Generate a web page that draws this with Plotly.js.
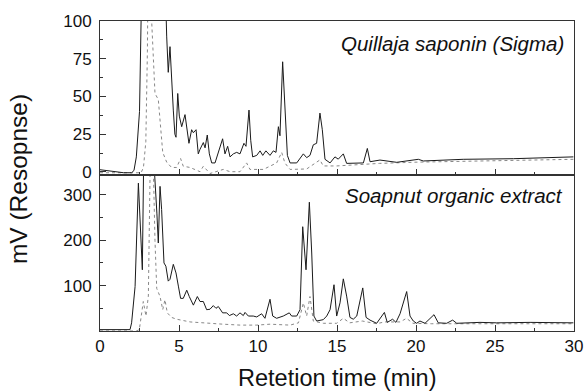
<!DOCTYPE html>
<html>
<head>
<meta charset="utf-8">
<script src="https://cdn.plot.ly/plotly-3.0.1.min.js"></script>
<style>html,body{margin:0;padding:0;background:#fff;}#chart{width:587px;height:392px;}</style>
</head>
<body>
<div id="chart"></div>
<script>
// Top panel: Quillaja saponin (Sigma)
const quillajaSolidX = [0,0.5,1.0,1.5,2.0,2.15,2.3,2.42,2.5,2.6,2.8,3.2,3.8,4.15,4.22,4.32,4.43,4.64,4.74,4.81,4.92,5.02,5.17,5.38,5.49,5.63,5.8,5.91,6.08,6.22,6.33,6.54,6.65,6.79,6.92,7.07,7.28,7.49,7.76,7.91,8.08,8.23,8.44,8.65,8.86,9.11,9.24,9.43,9.54,9.66,9.92,10.13,10.3,10.5,10.76,10.97,11.14,11.29,11.39,11.56,11.71,11.86,12.03,12.45,12.87,13.08,13.29,13.5,13.71,13.92,14.07,14.24,14.56,14.87,15.08,15.4,15.61,16.25,16.67,16.92,17.09,17.72,18.78,20.15,20.46,22.99,26.16,29.96];
const quillajaSolidY = [1.5,1.0,0,-0.5,-0.5,1,10,30,40,100,250,400,250,100,90,66,83,41,25,23,52,37,30,38,29,19,28,26,28,12,15,19.5,16,24.5,12,6,6,13,22,12,17,10,12,13,12,19,17,41,21,10,11,14,11,14,11,14,13,30,24,73,41,11,6,6,12,9.5,11,18,19,39,28,8.4,6,10,8.5,12,5.7,5.7,6,15.6,6.8,7.9,6.4,8.4,7.3,8.4,8.8,10];
const quillajaDotX = [0,1.0,2.0,2.6,2.75,2.9,3.0,3.1,3.27,3.48,3.69,3.8,3.97,4.22,4.53,4.85,5.1,5.27,5.7,6.33,6.54,6.96,7.8,8.23,8.86,9.28,9.49,10.34,11.18,11.5,11.7,12.03,13.08,13.92,14.13,14.98,17.7,20,25,29.96];
const quillajaDotY = [-0.5,-0.5,-0.5,-0.5,3,20,80,200,100,52,48,33,13,6.5,3,3,8.9,3.8,3,0.2,3.8,-1,1.7,0.2,0.2,6,1.7,1.7,6,13,6,1.7,2,8,4,4,5.7,6.5,7.5,8.4];

// Bottom panel: Soapnut organic extract
const soapnutSolidX = [0,1.0,1.9,2.0,2.22,2.43,2.53,2.68,2.78,2.85,3.1,3.4,3.6,3.69,3.8,3.9,4.05,4.17,4.32,4.43,4.64,4.81,4.96,5.1,5.27,5.49,5.65,5.91,6.16,6.33,6.54,6.75,6.96,7.17,7.34,7.49,7.76,8.02,8.19,8.44,8.65,8.86,9.07,9.18,9.39,9.7,9.92,10.23,10.44,10.76,10.93,11.18,11.6,11.98,12.13,12.45,12.66,12.83,13.04,13.25,13.4,13.54,13.71,14.13,14.35,14.56,14.81,14.98,15.19,15.4,15.61,15.82,16.03,16.25,16.63,16.84,17.09,17.51,18.0,18.18,18.52,18.73,18.99,19.41,19.62,19.83,20.04,20.25,20.57,21.14,21.41,21.94,22.32,22.58,24.05,25.11,27.22,29.96];
const soapnutSolidY = [3,3,3,18,98,326,245,135,420,450,420,380,260,194,319,268,150,143,110,114,147,128,99,72,72,90,76,57,76,65,65,47,48,56,50,54,40,40,34,38,33,40,34,41,33,33,31,38,28,70,33,28,33,40,33,33,47,230,135,284,172,33,22,25,33,47,102,33,62,115,77,30,26,33,95,30,24,17,41,19,26,19,38,87,33,22,17,22,17,36,18,17,24,17,19,18,19,18];
const soapnutDotX = [0,1.0,2.3,2.49,2.74,2.91,3.06,3.21,3.35,3.48,3.59,3.8,3.97,4.11,4.26,4.53,4.85,5.7,6.75,7.8,8.86,9.92,10.76,12.03,12.56,12.87,13.08,13.29,13.5,14.13,14.98,15.4,15.8,16.6,17.5,18.0,19.0,19.4,19.8,21,25,29.96];
const soapnutDotY = [0,0,0,3,65,33,77,450,400,200,94,76,47,69,40,30,26,20,17,15,13,13,15,13,18,62,33,76,22,17,17,28,18,22,16,20,20,28,17,16,16,16];

const xTicks = [0,5,10,15,20,25,30];
const topTicks = [0,25,50,75,100];
const bottomTicks = [100,200,300];

const FONT = 'Liberation Sans, Arial, Helvetica, sans-serif';
const AX = '#333';
const solid = {color:'#1a1a1a', width:1};
const dotted = {color:'#888', width:1, dash:'dot'};

const traces = [
  {x:soapnutDotX, y:soapnutDotY, xaxis:'x', yaxis:'y', mode:'lines', line:dotted, hoverinfo:'skip'},
  {x:soapnutSolidX, y:soapnutSolidY, xaxis:'x', yaxis:'y', mode:'lines', line:solid, hoverinfo:'skip'},
  {x:quillajaDotX, y:quillajaDotY, xaxis:'x2', yaxis:'y2', mode:'lines', line:dotted, hoverinfo:'skip'},
  {x:quillajaSolidX, y:quillajaSolidY, xaxis:'x2', yaxis:'y2', mode:'lines', line:solid, hoverinfo:'skip'}
];

const common = {
  showgrid:false, zeroline:false, showline:true, mirror:true,
  linecolor:AX, linewidth:1, ticks:'inside', ticklen:6, tickwidth:1, tickcolor:AX,
  tickfont:{family:FONT, size:17, color:'#111'}, fixedrange:true
};

const split = 0.5032;
const layout = {
  width:587, height:392,
  margin:{l:100, r:13, t:21, b:61},
  paper_bgcolor:'#fff', plot_bgcolor:'#fff',
  showlegend:false,
  font:{family:FONT, color:'#111'},
  xaxis:Object.assign({}, common, {
    range:[0,30], tickvals:xTicks, ticktext:xTicks.map(String), anchor:'y',
    ticklabelstandoff:0,
    minor:{dtick:2.5, ticks:'inside', ticklen:3, tickcolor:AX, showgrid:false}
  }),
  xaxis2:Object.assign({}, common, {
    range:[0,30], tickvals:xTicks, showticklabels:false, anchor:'y2', matches:'x',
    minor:{dtick:2.5, ticks:'inside', ticklen:3, tickcolor:AX, showgrid:false}
  }),
  yaxis:Object.assign({}, common, {
    domain:[0, split], range:[0,344], tickvals:bottomTicks, ticktext:bottomTicks.map(String), anchor:'x',
    ticklabelstandoff:4,
    minor:{dtick:50, ticks:'inside', ticklen:3, tickcolor:AX, showgrid:false}
  }),
  yaxis2:Object.assign({}, common, {
    domain:[split, 1], range:[-2,100], tickvals:topTicks, ticktext:topTicks.map(String), anchor:'x2',
    ticklabelstandoff:4,
    minor:{dtick:12.5, ticks:'inside', ticklen:3, tickcolor:AX, showgrid:false}
  }),
  annotations:[
    {text:'Quillaja saponin (Sigma)', xref:'paper', yref:'paper', x:0.983, y:0.929,
     xanchor:'right', yanchor:'middle', showarrow:false,
     font:{family:FONT, size:20.5, style:'italic', color:'#111'}},
    {text:'Soapnut organic extract', xref:'paper', yref:'paper', x:0.981, y:0.4355,
     xanchor:'right', yanchor:'middle', showarrow:false,
     font:{family:FONT, size:20.5, style:'italic', color:'#111'}},
    {text:'Retetion time (min)', xref:'paper', yref:'paper', x:0.5, y:-0.152,
     xanchor:'center', yanchor:'middle', showarrow:false,
     font:{family:FONT, size:23.5, color:'#111'}},
    {text:'mV (Resopnse)', xref:'paper', yref:'paper', x:-0.173, y:0.49,
     xanchor:'center', yanchor:'middle', showarrow:false, textangle:-90,
     font:{family:FONT, size:24.5, color:'#111'}}
  ]
};

Plotly.newPlot('chart', traces, layout, {staticPlot:true, displayModeBar:false});
</script>
</body>
</html>
